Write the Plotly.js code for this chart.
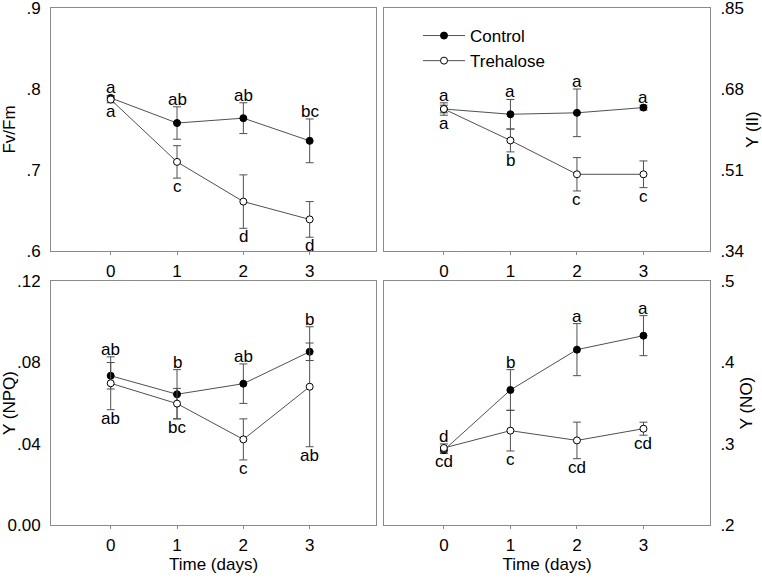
<!DOCTYPE html>
<html>
<head>
<meta charset="utf-8">
<script src="https://cdn.plot.ly/plotly-3.0.1.min.js"></script>
<style>html,body{margin:0;padding:0;background:#fff;}#chart{width:762px;height:581px;}</style>
</head>
<body>
<div id="chart"></div>
<script>
// ---- data ----
var days = [0, 1, 2, 3];
var dayTickLabels = ['0', '1', '2', '3'];

var fvfmControl = [0.789, 0.758, 0.764, 0.736];
var fvfmControlErr = [0.003, 0.020, 0.019, 0.027];
var fvfmTrehalose = [0.787, 0.710, 0.661, 0.639];
var fvfmTrehaloseErr = [0.004, 0.020, 0.033, 0.022];
var fvfmControlLetters = ['a', 'ab', 'ab', 'bc'];
var fvfmTrehaloseLetters = ['a', 'c', 'd', 'd'];
var fvfmTicks = [0.6, 0.7, 0.8, 0.9];
var fvfmTickText = ['.6', '.7', '.8', '.9'];

var yiiControl = [0.638, 0.627, 0.630, 0.641];
var yiiControlErr = [0.008, 0.031, 0.050, 0.005];
var yiiTrehalose = [0.638, 0.572, 0.501, 0.501];
var yiiTrehaloseErr = [0.013, 0.024, 0.035, 0.028];
var yiiControlLetters = ['a', 'a', 'a', 'a'];
var yiiTrehaloseLetters = ['a', 'b', 'c', 'c'];
var yiiTicks = [0.34, 0.51, 0.68, 0.85];
var yiiTickText = ['.34', '.51', '.68', '.85'];

var npqControl = [0.0734, 0.0643, 0.0695, 0.0852];
var npqControlErr = [0.0065, 0.0121, 0.0097, 0.0043];
var npqTrehalose = [0.0697, 0.0597, 0.0421, 0.0680];
var npqTrehaloseErr = [0.0130, 0.0075, 0.0101, 0.0295];
var npqControlLetters = ['ab', 'b', 'ab', 'b'];
var npqTrehaloseLetters = ['ab', 'bc', 'c', 'ab'];
var npqTicks = [0, 0.04, 0.08, 0.12];
var npqTickText = ['0.00', '.04', '.08', '.12'];

var noControl = [0.292, 0.366, 0.4156, 0.4328];
var noControlErr = [0.004, 0.025, 0.032, 0.0246];
var noTrehalose = [0.2947, 0.316, 0.304, 0.3184];
var noTrehaloseErr = [0.005, 0.025, 0.0225, 0.008];
var noControlLetters = ['d', 'b', 'a', 'a'];
var noTrehaloseLetters = ['cd', 'c', 'cd', 'cd'];
var noTicks = [0.2, 0.3, 0.4, 0.5];
var noTickText = ['.2', '.3', '.4', '.5'];

// ---- styling ----
var FONT = 'Liberation Sans, Arial, sans-serif';
var FS = 17;
var LINE = '#505050';
var FRAME = '#8a8a8a';

var panels = [
  {xa: 'x', ya: 'y', c: fvfmControl, ce: fvfmControlErr, t: fvfmTrehalose, te: fvfmTrehaloseErr, cl: fvfmControlLetters, tl: fvfmTrehaloseLetters, legend: false},
  {xa: 'x2', ya: 'y2', c: yiiControl, ce: yiiControlErr, t: yiiTrehalose, te: yiiTrehaloseErr, cl: yiiControlLetters, tl: yiiTrehaloseLetters, legend: true},
  {xa: 'x3', ya: 'y3', c: npqControl, ce: npqControlErr, t: npqTrehalose, te: npqTrehaloseErr, cl: npqControlLetters, tl: npqTrehaloseLetters, legend: false},
  {xa: 'x4', ya: 'y4', c: noControl, ce: noControlErr, t: noTrehalose, te: noTrehaloseErr, cl: noControlLetters, tl: noTrehaloseLetters, legend: false}
];

var traces = [];
var annotations = [];
panels.forEach(function (p) {
  traces.push({
    x: days, y: p.c, xaxis: p.xa, yaxis: p.ya, type: 'scatter', mode: 'lines+markers',
    name: 'Control', showlegend: p.legend, legendrank: 1,
    line: {color: LINE, width: 1},
    marker: {symbol: 'circle', size: 7, color: '#000', line: {color: '#000', width: 1}},
    error_y: {type: 'data', array: p.ce, visible: true, color: LINE, thickness: 1, width: 4}
  });
  traces.push({
    x: days, y: p.t, xaxis: p.xa, yaxis: p.ya, type: 'scatter', mode: 'lines+markers',
    name: 'Trehalose', showlegend: p.legend, legendrank: 2,
    line: {color: LINE, width: 1},
    marker: {symbol: 'circle', size: 7, color: '#fff', line: {color: '#000', width: 1}},
    error_y: {type: 'data', array: p.te, visible: true, color: LINE, thickness: 1, width: 4}
  });
  for (var i = 0; i < days.length; i++) {
    var top = Math.max(p.c[i] + p.ce[i], p.t[i] + p.te[i]);
    var bot = Math.min(p.c[i] - p.ce[i], p.t[i] - p.te[i]);
    annotations.push({xref: p.xa, yref: p.ya, x: days[i], y: top, text: p.cl[i], showarrow: false,
      yanchor: 'bottom', yshift: -4, font: {family: FONT, size: FS, color: '#000'}});
    annotations.push({xref: p.xa, yref: p.ya, x: days[i], y: bot, text: p.tl[i], showarrow: false,
      yanchor: 'top', yshift: 3, font: {family: FONT, size: FS, color: '#000'}});
  }
});

function xaxis(domain, anchor, withTitle) {
  var a = {
    domain: domain, anchor: anchor, range: [-0.9, 4.0], tickvals: days, ticktext: dayTickLabels,
    ticks: 'outside', ticklen: 3, tickcolor: FRAME, showline: true, linecolor: FRAME, linewidth: 1, mirror: true,
    showgrid: false, zeroline: false, tickfont: {family: FONT, size: FS, color: '#000'}, ticklabelstandoff: 2
  };
  if (withTitle) a.title = {text: 'Time (days)', font: {family: FONT, size: FS, color: '#000'}, standoff: 0};
  return a;
}
function yaxis(domain, anchor, range, vals, text, title, side) {
  var span = range[1] - range[0];
  return {
    domain: domain, anchor: anchor, range: [range[0], range[1] + span * 1e-6], tickvals: vals, ticktext: text, side: side,
    ticks: '', showline: true, linecolor: FRAME, linewidth: 1, mirror: true,
    showgrid: false, zeroline: false, tickfont: {family: FONT, size: FS, color: '#000'}, ticklabelstandoff: 6,
    ticklabeloverflow: 'allow',
    title: {text: title, font: {family: FONT, size: FS, color: '#000'}, standoff: 6}
  };
}

var xL = [51 / 762, 376 / 762];
var xR = [384 / 762, 710 / 762];
var yT = [1 - 251 / 581, 1 - 8 / 581];
var yB = [1 - 525 / 581, 1 - 281 / 581];

var layout = {
  width: 762, height: 581,
  margin: {l: 0, r: 0, t: 0, b: 0},
  paper_bgcolor: '#fff', plot_bgcolor: '#fff',
  font: {family: FONT, size: FS, color: '#000'},
  showlegend: true,
  legend: {x: 418 / 762, y: 1 - 18 / 581, xanchor: 'left', yanchor: 'top', bgcolor: 'rgba(0,0,0,0)',
    font: {family: FONT, size: FS, color: '#000'}, tracegroupgap: 0, itemwidth: 42},
  xaxis: xaxis(xL, 'y', false),
  yaxis: yaxis(yT, 'x', [0.6, 0.9], fvfmTicks, fvfmTickText, 'Fv/Fm', 'left'),
  xaxis2: xaxis(xR, 'y2', false),
  yaxis2: yaxis(yT, 'x2', [0.34, 0.85], yiiTicks, yiiTickText, 'Y (II)', 'right'),
  xaxis3: xaxis(xL, 'y3', true),
  yaxis3: yaxis(yB, 'x3', [0, 0.12], npqTicks, npqTickText, 'Y (NPQ)', 'left'),
  xaxis4: xaxis(xR, 'y4', true),
  yaxis4: yaxis(yB, 'x4', [0.2, 0.5], noTicks, noTickText, 'Y (NO)', 'right'),
  annotations: annotations
};

Plotly.newPlot('chart', traces, layout, {staticPlot: true, displayModeBar: false});
</script>
</body>
</html>
